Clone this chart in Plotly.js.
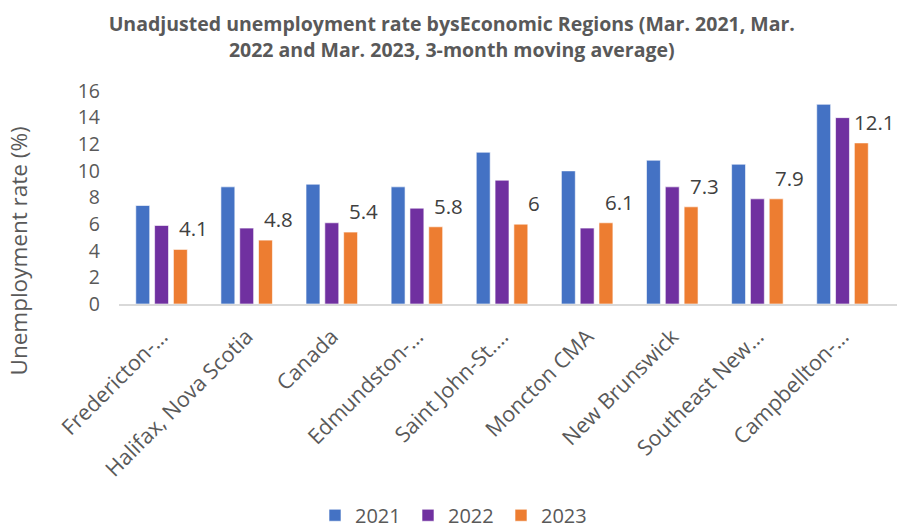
<!DOCTYPE html>
<html>
<head>
<meta charset="utf-8">
<script src="https://cdn.plot.ly/plotly-3.0.1.min.js"></script>
<style>html,body{margin:0;padding:0;background:#fff;}#chart{width:909px;height:529px;}</style>
</head>
<body>
<div id="chart"></div>
<script>
const categories = ["Fredericton-…", "Halifax, Nova Scotia", "Canada", "Edmundston-…", "Saint John-St.…", "Moncton CMA", "New Brunswick", "Southeast New…", "Campbellton-…"];
const years = ["2021", "2022", "2023"];
const values2021 = [7.4, 8.8, 9.0, 8.8, 11.4, 10.0, 10.8, 10.5, 15.0];
const values2022 = [5.9, 5.7, 6.1, 7.2, 9.3, 5.7, 8.8, 7.9, 14.0];
const values2023 = [4.1, 4.8, 5.4, 5.8, 6.0, 6.1, 7.3, 7.9, 12.1];
const colors = ["#4472C4", "#7030A0", "#ED7D31"];
const yTitle = "Unemployment rate (%)";

const series = [values2021, values2022, values2023];
const traces = series.map((vals, i) => ({
  type: "bar",
  name: years[i],
  x: categories,
  y: vals,
  marker: {color: colors[i], line: {color: "rgba(255,255,255,0.6)", width: 1}},
  hoverinfo: "x+y"
}));

const annotations = categories.map((c, i) => ({
  x: c, y: values2023[i], xref: "x", yref: "y",
  text: String(values2023[i]),
  showarrow: false, xanchor: "center", yanchor: "bottom",
  xshift: 32, yshift: 5,
  font: {family: "Open Sans, sans-serif", size: 20.5, color: "#404040"}
}));
annotations.push({
  text: yTitle, textangle: -90,
  xref: "paper", x: 0, xanchor: "center", xshift: -101,
  yref: "paper", y: 0.5, yanchor: "middle", yshift: -54,
  showarrow: false,
  font: {family: "Open Sans, sans-serif", size: 22.5, color: "#595959"}
});

const layout = {
  width: 909, height: 529,
  margin: {l: 119, r: 12, t: 91, b: 225},
  paper_bgcolor: "#fff", plot_bgcolor: "#fff",
  title: {
    text: "<b>Unadjusted unemployment rate bysEconomic Regions (Mar. 2021, Mar.<br>2022 and Mar. 2023, 3-month moving average)</b>",
    font: {family: "Open Sans, sans-serif", size: 19.5, color: "#595959"},
    x: 0.497, xanchor: "center", xref: "container", y: 0.941, yanchor: "middle", yref: "container"
  },
  barmode: "group",
  bargap: 0.337,
  bargroupgap: 0.26,
  xaxis: {
    type: "category",
    tickangle: -45,
    showline: true, linecolor: "#D9D9D9", linewidth: 1.5,
    showgrid: false, ticks: "",
    automargin: false,
    ticklabelstandoff: 10,
    tickfont: {family: "Open Sans, sans-serif", size: 21.5, color: "#595959"},
    fixedrange: true
  },
  yaxis: {
    range: [0, 16], dtick: 2,
    showgrid: false, zeroline: false, showline: false, ticks: "",
    automargin: false,
    ticklabelstandoff: 18,
    tickfont: {family: "Open Sans, sans-serif", size: 19.5, color: "#595959"},
    fixedrange: true
  },
  showlegend: true,
  legend: {
    orientation: "h", x: 0.5, xanchor: "center", xref: "container",
    y: 0.026, yanchor: "middle", yref: "container",
    font: {family: "Open Sans, sans-serif", size: 20, color: "#595959"},
    traceorder: "normal", itemwidth: 30, entrywidth: 48
  },
  annotations: annotations
};

Plotly.newPlot("chart", traces, layout, {displayModeBar: false, staticPlot: true});
</script>
</body>
</html>
